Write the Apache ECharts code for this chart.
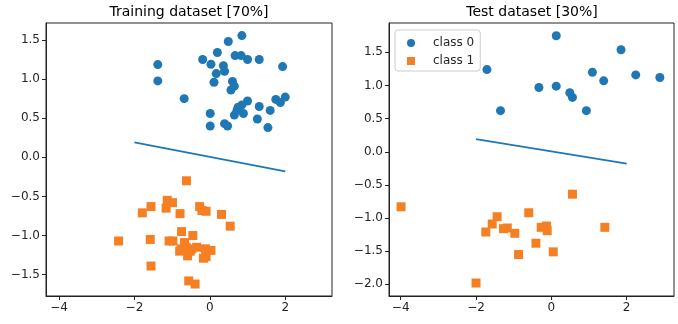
<!DOCTYPE html>
<html>
<head>
<meta charset="utf-8">
<script src="https://cdn.jsdelivr.net/npm/echarts@6/dist/echarts.min.js"></script>
<style>html,body{margin:0;padding:0;background:#fff}#c{width:678px;height:324px}</style>
</head>
<body>
<div id="c"></div>
<script>
// ---- data ----
const trainClass0X = [0.85,0.49,0.20,0.67,0.83,1.00,1.31,-0.19,0.03,-1.38,1.93,0.36,0.39,0.17,-1.38,0.11,0.60,0.65,0.56,-0.68,0.01,0.01,0.39,0.47,0.65,0.72,0.85,1.00,0.89,1.31,1.26,1.60,1.54,1.75,1.87,2.00,0.75];
const trainClass0Y = [1.556,1.48,1.34,1.30,1.30,1.25,1.25,1.25,1.19,1.185,1.16,1.17,1.10,1.07,0.977,0.96,0.97,0.91,0.86,0.75,0.56,0.40,0.43,0.40,0.54,0.60,0.67,0.72,0.56,0.65,0.49,0.60,0.38,0.74,0.70,0.77,0.64];
const trainClass1X = [-0.62,-1.56,-1.79,-1.13,-0.99,-1.16,-0.79,-0.27,-0.21,-0.10,0.31,0.54,-2.42,-1.58,-1.08,-0.98,-0.75,-0.45,-0.67,-0.76,-0.63,-0.59,-0.48,-0.35,-0.12,0.03,-0.17,-0.10,-1.56,-0.56,-0.39,-0.80,-0.52];
const trainClass1Y = [-0.30,-0.63,-0.71,-0.55,-0.58,-0.65,-0.72,-0.63,-0.68,-0.69,-0.73,-0.88,-1.07,-1.05,-1.07,-1.07,-0.95,-1.00,-1.09,-1.17,-1.15,-1.26,-1.17,-1.15,-1.17,-1.19,-1.29,-1.27,-1.39,-1.58,-1.62,-1.20,-1.20];
const testClass0X = [-1.71,-1.35,0.13,-0.33,0.13,0.49,0.56,0.93,1.09,1.39,1.85,2.24,2.88];
const testClass0Y = [1.24,0.62,1.75,0.97,0.99,0.89,0.82,0.62,1.20,1.07,1.54,1.16,1.12];
const testClass1X = [-3.99,-2.00,-1.74,-1.57,-1.44,-1.27,-1.17,-0.97,-0.87,-0.60,-0.41,-0.27,-0.13,-0.11,0.05,0.56,1.42];
const testClass1Y = [-0.83,-1.98,-1.21,-1.09,-0.98,-1.16,-1.15,-1.23,-1.55,-0.92,-1.38,-1.14,-1.12,-1.19,-1.51,-0.64,-1.14];
const boundaryX = [-2, 2];
const boundaryY = [0.19, -0.18];
const xTicks = [-4, -2, 0, 2];
const trainYTicks = [-1.5, -1.0, -0.5, 0.0, 0.5, 1.0, 1.5];
const testYTicks = [-2.0, -1.5, -1.0, -0.5, 0.0, 0.5, 1.0, 1.5];
const titles = ['Training dataset [70%]', 'Test dataset [30%]'];
const classNames = ['class 0', 'class 1'];

// ---- helpers ----
const zip = (xs, ys) => xs.map((x, i) => [x, ys[i]]);
const minus = s => s.replace('-', '\u2212');
const BLUE = '#1f77b4', ORANGE = '#f58024', TXT = '#262626';
const FONT = 'DejaVu Sans';

function xAxis(gi, min, max) {
  return {
    type: 'value', gridIndex: gi, min: min, max: max,
    splitLine: {show: false},
    axisLine: {show: true, onZero: false, lineStyle: {color: '#222', width: 1}},
    axisTick: {show: true, length: 4, inside: false, customValues: xTicks, lineStyle: {color: '#222'}},
    axisLabel: {customValues: xTicks, color: TXT, fontFamily: FONT, fontSize: 12, margin: 6,
      formatter: v => minus(String(Math.round(v)))}
  };
}
function yAxis(gi, min, max, ticks) {
  return {
    type: 'value', gridIndex: gi, min: min, max: max,
    splitLine: {show: false},
    axisLine: {show: true, onZero: false, lineStyle: {color: '#222', width: 1}},
    axisTick: {show: true, length: 4, inside: false, customValues: ticks, lineStyle: {color: '#222'}},
    axisLabel: {customValues: ticks, color: TXT, fontFamily: FONT, fontSize: 12, margin: 6,
      formatter: v => minus(Number(v).toFixed(1))}
  };
}
function scatter(name, gi, data, symbol, color) {
  return {
    type: 'scatter', name: name, xAxisIndex: gi, yAxisIndex: gi,
    data: data, symbol: symbol, symbolSize: 9,
    itemStyle: {color: color, opacity: 1}, emphasis: {disabled: true}, animation: false
  };
}
function line(gi) {
  return {
    type: 'line', name: 'boundary', xAxisIndex: gi, yAxisIndex: gi,
    data: zip(boundaryX, boundaryY), showSymbol: false, symbol: 'none',
    lineStyle: {color: BLUE, width: 1.8}, itemStyle: {color: BLUE}, animation: false
  };
}

const chart = echarts.init(document.getElementById('c'), null, {renderer: 'canvas'});
chart.setOption({
  backgroundColor: '#fff',
  animation: false,
  title: [
    {text: titles[0], left: 189, top: 5, textAlign: 'center', padding: 0,
     textStyle: {fontFamily: FONT, fontSize: 14, fontWeight: 'normal', color: '#000'}},
    {text: titles[1], left: 532, top: 5, textAlign: 'center', padding: 0,
     textStyle: {fontFamily: FONT, fontSize: 14, fontWeight: 'normal', color: '#000'}}
  ],
  legend: {
    data: classNames, orient: 'vertical', left: 395, top: 30,
    padding: [6, 6, 3, 12], itemGap: 4, itemWidth: 8, itemHeight: 8,
    borderColor: '#cccccc', borderWidth: 1, borderRadius: 3, backgroundColor: 'rgba(255,255,255,0.8)',
    textStyle: {fontFamily: FONT, fontSize: 12, color: TXT, lineHeight: 14, padding: [0, 0, 0, 13]},
    selectedMode: false
  },
  grid: [
    {left: 46, top: 23, width: 286, height: 273, show: true, borderColor: '#222', borderWidth: 1, backgroundColor: 'transparent'},
    {left: 389, top: 23, width: 285, height: 273, show: true, borderColor: '#222', borderWidth: 1, backgroundColor: 'transparent'}
  ],
  xAxis: [xAxis(0, -4.345, 3.24), xAxis(1, -4.31, 3.256)],
  yAxis: [yAxis(0, -1.773, 1.717, trainYTicks), yAxis(1, -2.176, 1.943, testYTicks)],
  series: [
    scatter(classNames[0], 0, zip(trainClass0X, trainClass0Y), 'circle', BLUE),
    scatter(classNames[1], 0, zip(trainClass1X, trainClass1Y), 'rect', ORANGE),
    line(0),
    scatter(classNames[0], 1, zip(testClass0X, testClass0Y), 'circle', BLUE),
    scatter(classNames[1], 1, zip(testClass1X, testClass1Y), 'rect', ORANGE),
    line(1)
  ]
});
</script>
</body>
</html>
